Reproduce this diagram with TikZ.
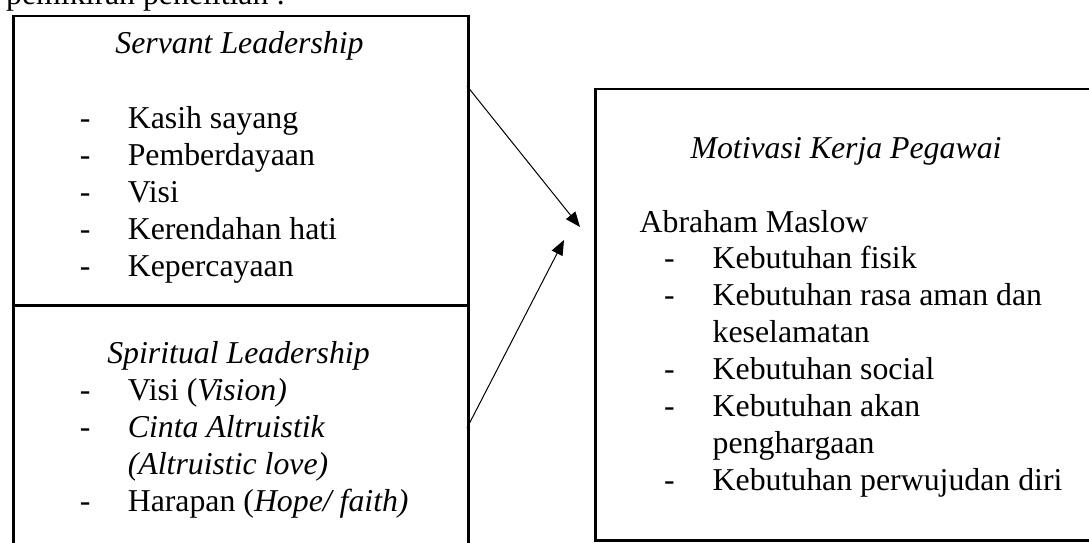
\documentclass[tikz,border=0pt]{standalone}
\usepackage{fontspec}
\setmainfont{Liberation Serif}
\usetikzlibrary{arrows.meta}
\begin{document}
\begin{tikzpicture}[x=1pt,y=-1pt,
  box/.style={draw, line width=2.5pt, inner sep=0, anchor=north west},
  txt/.style={inner sep=0, anchor=base west, font=\fontsize{31.8}{37}\selectfont},
  ctxt/.style={txt, anchor=base},
  conn/.style={line width=1pt, -{Triangle[length=15pt,width=12pt]}}]
\useasboundingbox (0,0) rectangle (1089,543);
% top cut text
\node[txt] (intro) at (6,5) {pemikiran penelitian :};
% boxes
\node[box, minimum width=455pt, minimum height=289pt] (servant) at (12,15) {};
\node[box, minimum width=455pt, minimum height=261pt] (spirit) at (12,304) {};
\node[box, minimum width=504pt, minimum height=451.5pt] (motiv) at (594,87.5) {};
% servant leadership
\node[ctxt] (slt) at (239.5,54) {\textit{Servant Leadership}};
\node[txt] (sd1) at (79.6,128.5) {-};
\node[txt] (sd2) at (79.6,165.5) {-};
\node[txt] (sd3) at (79.6,202.5) {-};
\node[txt] (sd4) at (79.6,239.5) {-};
\node[txt] (sd5) at (79.6,276.5) {-};
\node[txt] (si1) at (127.6,128.5) {Kasih sayang};
\node[txt] (si2) at (127.6,165.5) {Pemberdayaan};
\node[txt] (si3) at (127.6,202.5) {Visi};
\node[txt] (si4) at (127.6,239.5) {Kerendahan hati};
\node[txt] (si5) at (127.6,276.5) {Kepercayaan};
% spiritual leadership
\node[ctxt] (spt) at (238.5,363) {\textit{Spiritual Leadership}};
\node[txt] (pd1) at (79.6,400) {-};
\node[txt] (pd2) at (79.6,437) {-};
\node[txt] (pd3) at (79.6,511) {-};
\node[txt] (pi1) at (127.6,400) {Visi (\textit{Vision)}};
\node[txt] (pi2) at (127.6,437) {\textit{Cinta Altruistik}};
\node[txt] (pi2b) at (127.6,474) {\textit{(Altruistic love)}};
\node[txt] (pi3) at (127.6,511) {Harapan (\textit{Hope/ faith)}};
% motivasi
\node[ctxt] (mt) at (846,158) {\textit{Motivasi Kerja Pegawai}};
\node[txt] (am) at (639.5,232) {Abraham Maslow};
\node[txt] (md1) at (664,268) {-};
\node[txt] (md2) at (664,305) {-};
\node[txt] (md3) at (664,379) {-};
\node[txt] (md4) at (664,416) {-};
\node[txt] (md5) at (664,490) {-};
\node[txt] (mi1) at (712.5,268) {Kebutuhan fisik};
\node[txt] (mi2) at (712.5,305) {Kebutuhan rasa aman dan};
\node[txt] (mi2b) at (712.5,342) {keselamatan};
\node[txt] (mi3) at (712.5,379) {Kebutuhan social};
\node[txt] (mi4) at (712.5,416) {Kebutuhan akan};
\node[txt] (mi4b) at (712.5,453) {penghargaan};
\node[txt] (mi5) at (712.5,490) {Kebutuhan perwujudan diri};
% connectors
\coordinate (a1s) at (467,86);
\coordinate (a1e) at (580,227);
\coordinate (a2s) at (467,428);
\coordinate (a2e) at (564,240);
\draw[conn] (a1s) -- (a1e);
\draw[conn] (a2s) -- (a2e);
\end{tikzpicture}
\end{document}
